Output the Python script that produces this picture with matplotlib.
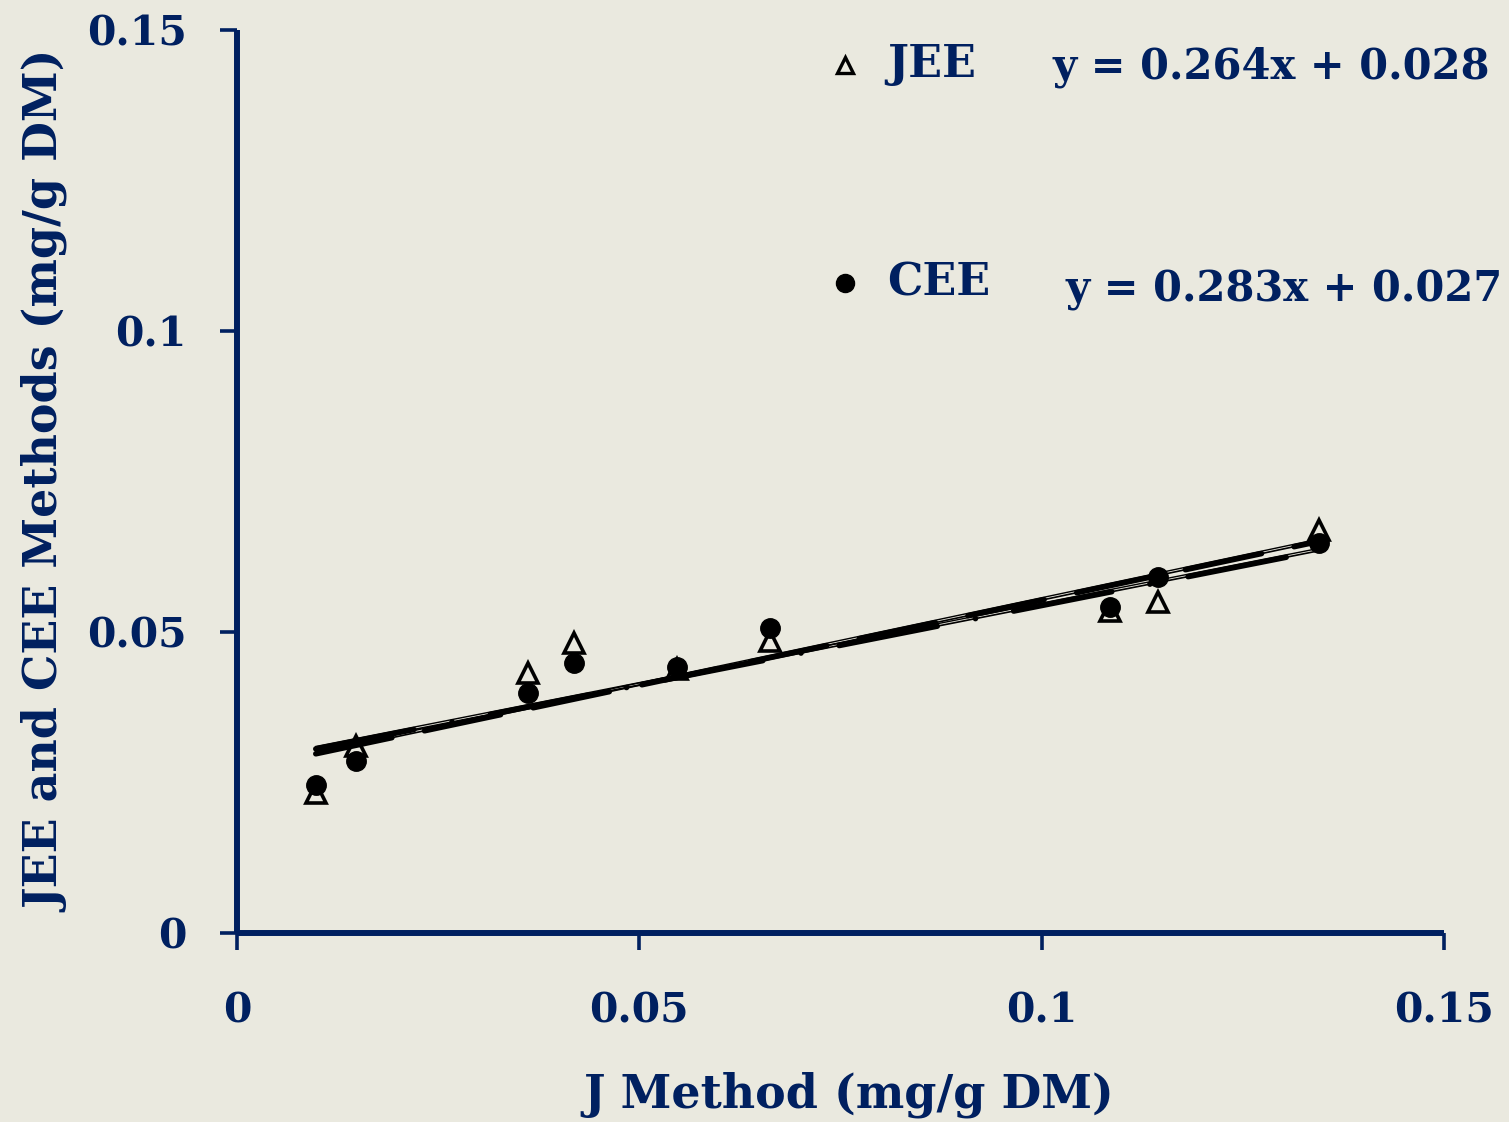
import numpy as np
import matplotlib
matplotlib.use('Agg')
import matplotlib.pyplot as plt

### data
j_method = [0.0098, 0.0148, 0.0362, 0.0419, 0.0547, 0.0663, 0.1085, 0.1144, 0.1345]
jee = [0.0233, 0.0311, 0.0432, 0.0482, 0.0438, 0.0485, 0.0535, 0.0550, 0.0669]
cee = [0.0246, 0.0286, 0.0399, 0.0449, 0.0442, 0.0507, 0.0542, 0.0591, 0.0648]

### trendline coefficients (slope, intercept) as printed
jee_fit = [0.264, 0.028]
cee_fit = [0.283, 0.027]

ticks = [0, 0.05, 0.1, 0.15]
tick_labels = ['0', '0.05', '0.1', '0.15']

navy = '#002060'
bg = '#EAE9DF'

plt.rcParams['font.family'] = ['DejaVu Serif']
plt.rcParams['font.weight'] = 'bold'

fig = plt.figure(figsize=(15.09, 11.22), dpi=100, facecolor=bg)
ax = fig.add_axes([0.157, 0.1684, 0.800, 0.8049])
ax.set_facecolor(bg)

### trendlines
xfit = np.array([min(j_method), max(j_method)])
for (m, b), dash in ((jee_fit, (18, 7, 0.01, 7)), (cee_fit, (14, 6))):
    yfit = m * xfit + b
    ax.plot(xfit, yfit, color='black', lw=1.2, zorder=2)
    ax.plot(xfit, yfit + 0.0004, color='black', lw=1.0, zorder=2)
    ax.plot(xfit, yfit, color='black', lw=4.0, dashes=dash,
            dash_capstyle='round', zorder=2)

### points
ax.plot(j_method, jee, ls='none', marker='^', ms=15, mfc='none',
        mec='black', mew=2.6, zorder=3)
ax.plot(j_method, cee, ls='none', marker='o', ms=14, mfc='black',
        mec='black', zorder=4)

### axes
ax.set_xlim(0, 0.15)
ax.set_ylim(0, 0.15)
ax.set_xticks(ticks)
ax.set_xticklabels(tick_labels)
ax.set_yticks(ticks)
ax.set_yticklabels(tick_labels)
for s in ['top', 'right']:
    ax.spines[s].set_visible(False)
for s in ['left', 'bottom']:
    ax.spines[s].set_color(navy)
    ax.spines[s].set_linewidth(4.3)
    ax.spines[s].set_capstyle('butt')
ax.tick_params(axis='both', direction='out', length=12, width=2.6,
               color=navy, labelcolor=navy, labelsize=29.5)
ax.tick_params(axis='x', pad=30)
ax.tick_params(axis='y', pad=24)
for lab in ax.get_xticklabels() + ax.get_yticklabels():
    lab.set_fontweight('bold')

ax.set_xlabel('J Method (mg/g DM)', fontsize=33, color=navy,
              fontweight='bold', labelpad=29)
ax.xaxis.label.set_x(0.507)
ax.set_ylabel('JEE and CEE Methods (mg/g DM)', fontsize=33, color=navy,
              fontweight='bold', labelpad=12)

### legend with equations
fig.lines.append(plt.Line2D([845 / 1509], [1 - 65 / 1122], transform=fig.transFigure,
                            ls='none', marker='^', ms=11, mfc='none', mec='black', mew=2.4))
fig.lines.append(plt.Line2D([845 / 1509], [1 - 283 / 1122], transform=fig.transFigure,
                            ls='none', marker='o', ms=13, mfc='black', mec='black'))
fig.text(887 / 1509, 1 - 65 / 1122, 'JEE', fontsize=32, color=navy,
         fontweight='bold', va='center', ha='left')
fig.text(1052 / 1509, 1 - 67 / 1122, 'y = 0.264x + 0.028', fontsize=30, color=navy,
         fontweight='bold', va='center', ha='left')
fig.text(887 / 1509, 1 - 283 / 1122, 'CEE', fontsize=32, color=navy,
         fontweight='bold', va='center', ha='left')
fig.text(1503 / 1509, 1 - 290 / 1122, 'y = 0.283x + 0.027', fontsize=30, color=navy,
         fontweight='bold', va='center', ha='right')

plt.savefig('out.png', dpi=100, facecolor=bg)
